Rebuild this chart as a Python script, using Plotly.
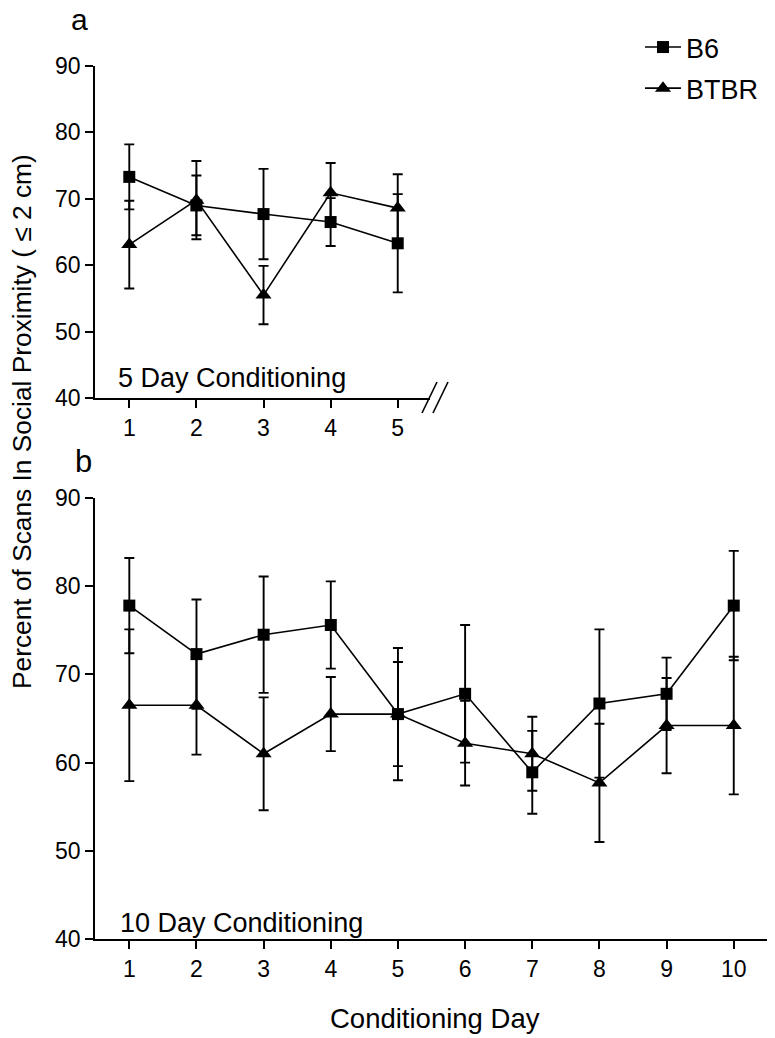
import plotly.graph_objects as go

# ---- data ----
days_a = [1, 2, 3, 4, 5]
b6_a = [73.3, 69.0, 67.7, 66.5, 63.3]
b6_a_err = [4.9, 4.5, 6.8, 3.6, 7.4]
btbr_a = [63.1, 69.8, 55.5, 70.9, 68.6]
btbr_a_err = [6.6, 5.9, 4.4, 4.5, 5.1]

days_b = [1, 2, 3, 4, 5, 6, 7, 8, 9, 10]
b6_b = [77.8, 72.3, 74.5, 75.6, 65.5, 67.8, 58.9, 66.7, 67.8, 77.8]
b6_b_err = [5.4, 6.2, 6.6, 4.95, 7.5, 7.8, 4.7, 8.4, 4.1, 6.2]
btbr_b = [66.5, 66.5, 61.0, 65.5, 65.5, 62.2, 61.0, 57.7, 64.2, 64.2]
btbr_b_err = [8.6, 5.6, 6.4, 4.2, 5.9, 4.8, 4.2, 6.7, 5.4, 7.8]

y_ticks = [40, 50, 60, 70, 80, 90]

FONT = "Liberation Sans, Arial, sans-serif"
W, H = 775, 1038
OFF = 8  # page body margin


def px(x):
    return (x - OFF) / W


def py(y):
    return 1 - (y - OFF) / H


fig = go.Figure()


def add(x, y, err, name, symbol, size, xa, ya, show):
    fig.add_trace(go.Scatter(
        x=x, y=y, name=name, mode="lines+markers", legendgroup=name,
        line=dict(color="black", width=1.6),
        marker=dict(symbol=symbol, size=size, color="black"),
        error_y=dict(type="data", array=err, visible=True, color="black",
                     thickness=1.9, width=5),
        xaxis=xa, yaxis=ya, showlegend=show, cliponaxis=False,
    ))


add(days_a, b6_a, b6_a_err, "B6", "square", 12, "x", "y", True)
add(days_a, btbr_a, btbr_a_err, "BTBR", "triangle-up", 14, "x", "y", True)
add(days_b, b6_b, b6_b_err, "B6", "square", 12, "x2", "y2", False)
add(days_b, btbr_b, btbr_b_err, "BTBR", "triangle-up", 14, "x2", "y2", False)

axis_common = dict(
    showline=True, linecolor="black", linewidth=1.8,
    ticks="outside", ticklen=8, tickwidth=1.8, tickcolor="black",
    showgrid=False, zeroline=False, automargin=False,
    tickfont=dict(family=FONT, size=23, color="black"),
)

fig.update_layout(
    template="none",
    width=W, height=H,
    margin=dict(l=0, r=0, t=0, b=0, pad=0, autoexpand=False),
    paper_bgcolor="white", plot_bgcolor="white",
    font=dict(family=FONT, color="black"),
    xaxis=dict(domain=[px(95), px(430)], range=[0.489, 5.481],
               tickvals=days_a, anchor="y", **axis_common),
    yaxis=dict(domain=[py(398), py(66)], range=[40, 90],
               tickvals=y_ticks, anchor="x", **axis_common),
    xaxis2=dict(domain=[px(95), px(768)], range=[0.489, 10.51],
                tickvals=days_b, anchor="y2", **axis_common),
    yaxis2=dict(domain=[py(939), py(498)], range=[40, 90],
                tickvals=y_ticks, anchor="x2", **axis_common),
    legend=dict(x=px(640), y=py(23), xanchor="left", yanchor="top",
                font=dict(family=FONT, size=27, color="black"),
                bgcolor="rgba(0,0,0,0)", itemwidth=36, tracegroupgap=3),
)

annotations = [
    dict(text="a", x=px(79), y=py(20), font=dict(size=30)),
    dict(text="b", x=px(83), y=py(461), font=dict(size=31)),
    dict(text="5 Day Conditioning", x=px(116), y=py(378), xanchor="left",
         font=dict(size=27)),
    dict(text="10 Day Conditioning", x=px(118), y=py(923), xanchor="left",
         font=dict(size=27)),
    dict(text="Conditioning Day", x=px(435), y=py(1018), font=dict(size=27.5)),
    dict(text="Percent of Scans In Social Proximity ( \u2264 2 cm)", x=px(22),
         y=py(422), textangle=-90, font=dict(size=26.3)),
]
for a in annotations:
    a.setdefault("xanchor", "center")
    a.update(xref="paper", yref="paper", showarrow=False, yanchor="middle")
    a["font"].update(family=FONT, color="black")
fig.update_layout(annotations=annotations)

# axis break marks
for x0 in (422, 433):
    fig.add_shape(type="line", xref="paper", yref="paper",
                  x0=px(x0), y0=py(413), x1=px(x0 + 15), y1=py(382),
                  line=dict(color="black", width=1.6))

fig.write_html("out.html")
